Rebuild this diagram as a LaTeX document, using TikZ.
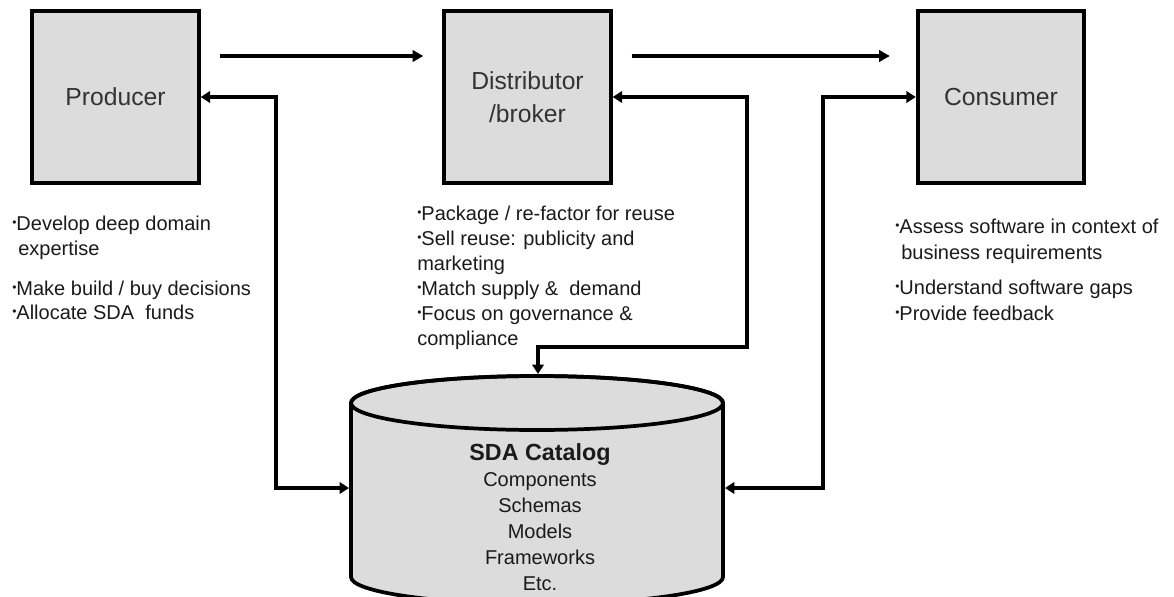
\documentclass[tikz,border=0pt]{standalone}
\usepackage{fontspec}
\setmainfont{Liberation Sans}
\usetikzlibrary{arrows.meta}
\definecolor{boxgray}{HTML}{DCDCDC}
\definecolor{textgray}{HTML}{1A1A1A}
\definecolor{labelgray}{HTML}{333333}
\newcommand\bul{\raisebox{0.3ex}{\scalebox{0.6}{•}}}
\begin{document}
\begin{tikzpicture}[x=0.75pt,y=-0.75pt,
  box/.style={draw=black, line width=2.8pt, fill=boxgray, minimum width=125pt,
    minimum height=129pt, inner sep=0pt, align=center, text=labelgray,
    font=\fontsize{18.5}{24.75}\selectfont},
  conn/.style={line width=2.8pt},
  fwd/.style={conn, -{Triangle[length=8pt,width=8.5pt]}},
  both/.style={conn, {Triangle[length=7pt,width=8.5pt]}-{Triangle[length=7pt,width=8.5pt]}},
  btext/.style={anchor=base west, inner sep=0pt, text=textgray, font=\fontsize{15}{18}\selectfont},
  ctext/.style={anchor=base, inner sep=0pt, text=textgray, font=\fontsize{15}{18}\selectfont},
  ]
\useasboundingbox (0,0) rectangle (1174,596);
\clip (0,0) rectangle (1174,596);

% boxes
\node[box] (prod) at (115.5,97) {Producer};
\node[box] (dist) at (527.5,97) {Distributor\\/broker};
\node[box] (cons) at (1001,97) {Consumer};

% catalog cylinder
\filldraw[fill=boxgray, line width=2.8pt] (351,403) -- (351,577)
  arc[start angle=180, end angle=360, x radius=139.5pt, y radius=20.25pt]
  -- (723,403)
  arc[start angle=0, end angle=180, x radius=139.5pt, y radius=20.25pt] -- cycle;
\draw[line width=2.8pt] (537,403) ellipse [x radius=139.5pt, y radius=20.25pt];
\coordinate (catL) at (349,488);
\coordinate (catR) at (725,488);
\coordinate (catT) at (538,374);

\node[ctext, font=\fontsize{17.5}{18}\selectfont\bfseries] (cattitle) at (540,460) {SDA Catalog};
\node[ctext] (c1) at (540,486) {Components};
\node[ctext] (c2) at (540,512) {Schemas};
\node[ctext] (c3) at (540,538) {Models};
\node[ctext] (c4) at (540,564) {Frameworks};
\node[ctext] (c5) at (540,590) {Etc.};

% top flow arrows
\coordinate (toprow) at (0,56);
\draw[fwd, shorten <=14.25pt, shorten >=14.25pt] (prod.east |- toprow) -- (dist.west |- toprow);
\draw[fwd, shorten <=14.25pt, shorten >=19.5pt] (dist.east |- toprow) -- (cons.west |- toprow);

% connectors to the catalog
\coordinate (pv) at (276,488);
\draw[both] (prod.east) -| (pv) -- (catL);
\coordinate (dv) at (747,347);
\coordinate (dh) at (538,347);
\draw[both] (dist.east) -| (dv) -- (dh) -- (catT);
\coordinate (cv) at (823,488);
\draw[both] (cons.west) -| (cv) -- (catR);

% producer notes
\node[btext] (p1) at (12,230) {\bul Develop deep domain};
\node[btext] (p2) at (18,255) {expertise};
\node[btext] (p3) at (12,295) {\bul Make build / buy decisions};
\node[btext] (p4) at (12,319) {\bul Allocate SDA~ funds};

% distributor notes
\node[btext] (d1) at (417,220) {\bul Package / re-factor for reuse};
\node[btext] (d2) at (417,245) {\bul Sell reuse: publicity and};
\node[btext] (d3) at (417,270) {marketing};
\node[btext] (d4) at (417,295) {\bul Match supply \&~ demand};
\node[btext] (d5) at (417,320) {\bul Focus on governance \&};
\node[btext] (d6) at (417,345) {compliance};

% consumer notes
\node[btext] (k1) at (895,233) {\bul Assess software in context of};
\node[btext] (k2) at (901,259) {business requirements};
\node[btext] (k3) at (895,294) {\bul Understand software gaps};
\node[btext] (k4) at (895,320) {\bul Provide feedback};
\end{tikzpicture}
\end{document}
